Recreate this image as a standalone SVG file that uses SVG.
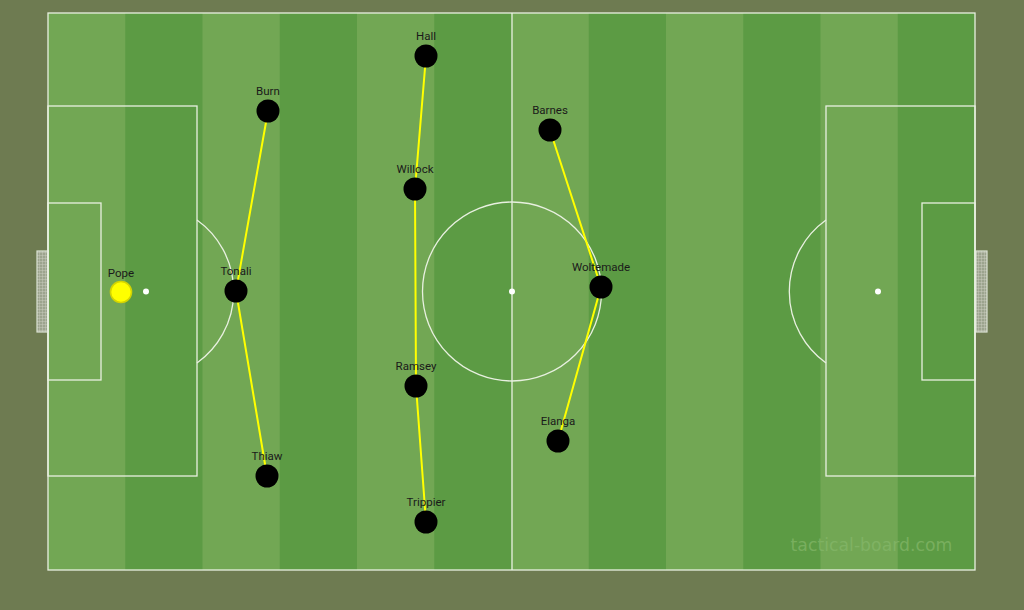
<svg xmlns="http://www.w3.org/2000/svg" width="1024" height="610" viewBox="0 0 1024 610">
<defs>
<style>
.ln{fill:none;stroke:#e8f0e0;stroke-width:1.3}
.lbl{font-family:Roboto,"Liberation Sans",sans-serif;font-size:11.5px;fill:#1a1a1a;text-anchor:middle}
.pl{fill:#000}
.con{stroke:#ffff00;stroke-width:2;fill:none}
</style>
<pattern id="net" width="3" height="3" patternUnits="userSpaceOnUse">
<rect width="3" height="3" fill="#9ca48e"/>
<path d="M0 0H3M0 0V3" stroke="#cfd3c7" stroke-width="0.8"/>
</pattern>
</defs>
<rect width="1024" height="610" fill="#6e7b51"/>
<g id="pitch">
<rect x="48" y="13" width="927" height="557" fill="#5c9b44"/>
<rect x="48" y="13" width="77.25" height="557" fill="#72a754"/>
<rect x="202.5" y="13" width="77.25" height="557" fill="#72a754"/>
<rect x="357" y="13" width="77.25" height="557" fill="#72a754"/>
<rect x="511.5" y="13" width="77.25" height="557" fill="#72a754"/>
<rect x="666" y="13" width="77.25" height="557" fill="#72a754"/>
<rect x="820.5" y="13" width="77.25" height="557" fill="#72a754"/>
<rect x="37" y="251" width="11" height="81" fill="url(#net)" stroke="#dde3d5" stroke-width="1.2"/>
<rect x="976" y="251" width="11" height="81" fill="url(#net)" stroke="#dde3d5" stroke-width="1.2"/>
<rect class="ln" x="48" y="13" width="927" height="557" stroke-width="1.6"/>
<line class="ln" x1="512" y1="13" x2="512" y2="570"/>
<circle class="ln" cx="512" cy="291.5" r="89.5"/>
<circle cx="512" cy="291.5" r="3" fill="#fff"/>
<rect class="ln" x="48" y="106" width="149" height="370"/>
<rect class="ln" x="48" y="203" width="53" height="177"/>
<circle cx="146" cy="291.5" r="3" fill="#fff"/>
<path class="ln" d="M197 220 A88 88 0 0 1 197 363"/>
<rect class="ln" x="826" y="106" width="149" height="370"/>
<rect class="ln" x="922" y="203" width="53" height="177"/>
<circle cx="878" cy="291.5" r="3" fill="#fff"/>
<path class="ln" d="M826 220 A88 88 0 0 0 826 363"/>
<text x="871.5" y="551" font-family="'DejaVu Sans',Verdana,sans-serif" font-size="17.3" fill="#86b86b" fill-opacity="0.7" text-anchor="middle">tactical-board.com</text>
</g>
<g id="connectors">
<polyline class="con" points="268,111 236,291 267,476"/>
<polyline class="con" points="426,56 415,189 416,386 426,522"/>
<polyline class="con" points="550,130 601,287 558,441"/>
</g>
<g id="pope"><circle cx="121" cy="292" r="10.5" fill="#ffff00" stroke="#d4d400" stroke-width="1.6"/><text class="lbl" x="121" y="277">Pope</text></g>
<g id="burn"><circle class="pl" cx="268" cy="111" r="11.5"/><text class="lbl" x="268" y="95">Burn</text></g>
<g id="tonali"><circle class="pl" cx="236" cy="291" r="11.5"/><text class="lbl" x="236" y="275">Tonali</text></g>
<g id="thiaw"><circle class="pl" cx="267" cy="476" r="11.5"/><text class="lbl" x="267" y="460">Thiaw</text></g>
<g id="hall"><circle class="pl" cx="426" cy="56" r="11.5"/><text class="lbl" x="426" y="40">Hall</text></g>
<g id="willock"><circle class="pl" cx="415" cy="189" r="11.5"/><text class="lbl" x="415" y="173">Willock</text></g>
<g id="ramsey"><circle class="pl" cx="416" cy="386" r="11.5"/><text class="lbl" x="416" y="370">Ramsey</text></g>
<g id="trippier"><circle class="pl" cx="426" cy="522" r="11.5"/><text class="lbl" x="426" y="506">Trippier</text></g>
<g id="barnes"><circle class="pl" cx="550" cy="130" r="11.5"/><text class="lbl" x="550" y="114">Barnes</text></g>
<g id="woltemade"><circle class="pl" cx="601" cy="287" r="11.5"/><text class="lbl" x="601" y="271">Woltemade</text></g>
<g id="elanga"><circle class="pl" cx="558" cy="441" r="11.5"/><text class="lbl" x="558" y="425">Elanga</text></g>
</svg>
